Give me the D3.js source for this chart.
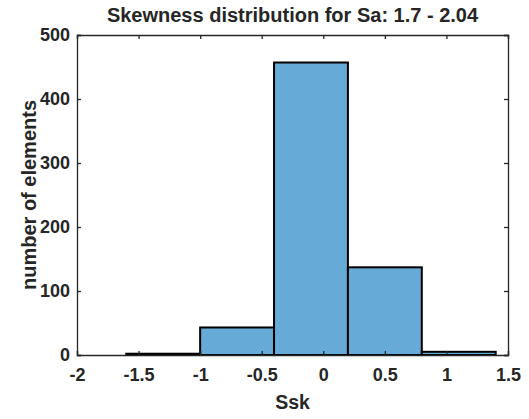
<!DOCTYPE html>
<html>
<head>
<meta charset="utf-8">
<script src="https://cdn.jsdelivr.net/npm/d3@7"></script>
<style>
  body { margin: 0; background: #fff; }
  text { font-family: "Liberation Sans", Arial, sans-serif; font-weight: bold; fill: #262626; }
</style>
</head>
<body>
<div id="root"></div>
<script>
// ---------------------------- DATA ----------------------------
// bin edges and counts
const binEdges = [-1.6, -1.0, -0.4, 0.2, 0.8, 1.4];
const binCounts = [2, 43, 457, 137, 5];
const xTicks = [-2, -1.5, -1, -0.5, 0, 0.5, 1, 1.5];
const yTicks = [0, 100, 200, 300, 400, 500];

const width = 529;
const height = 419;
const margin = { left: 77, right: 21, top: 35, bottom: 64 };

const svg = d3.select("#root").append("svg")
    .attr("width", width)
    .attr("height", height);

const x = d3.scaleLinear().domain([-2, 1.5]).range([margin.left, width - margin.right]);
const y = d3.scaleLinear().domain([0, 500]).range([height - margin.bottom, margin.top]);

const bins = binCounts.map((c, i) => ({ x0: binEdges[i], x1: binEdges[i + 1], count: c }));

// bars
svg.append("g")
    .selectAll("rect")
    .data(bins)
    .enter()
    .append("rect")
    .attr("x", d => x(d.x0))
    .attr("y", d => y(d.count))
    .attr("width", d => x(d.x1) - x(d.x0))
    .attr("height", d => y(0) - y(d.count))
    .attr("fill", "#66aad7")
    .attr("stroke", "#000")
    .attr("stroke-width", 2);

// axes (MATLAB style: ticks inward, box on)
const tickLen = 4;
const xAxis = d3.axisBottom(x).tickValues(xTicks).tickSize(-tickLen).tickPadding(13).tickFormat(d => String(d)); // plain hyphen like MATLAB
const yAxis = d3.axisLeft(y).tickValues(yTicks).tickSize(-tickLen).tickPadding(7);

const gx = svg.append("g").attr("transform", `translate(0,${y(0)})`).call(xAxis);
const gy = svg.append("g").attr("transform", `translate(${x(-2)},0)`).call(yAxis);
svg.append("g").attr("transform", `translate(0,${y(500)})`)
    .call(d3.axisTop(x).tickValues(xTicks).tickSize(-tickLen).tickFormat(""));
svg.append("g").attr("transform", `translate(${x(1.5)},0)`)
    .call(d3.axisRight(y).tickValues(yTicks).tickSize(-tickLen).tickFormat(""));

svg.selectAll(".domain, .tick line").attr("stroke", "#262626").attr("stroke-width", 1.3);
svg.selectAll(".tick text").style("font-size", "18px").style("font-family", "Liberation Sans, Arial, sans-serif").attr("fill", "#262626");

// labels
svg.append("text")
    .attr("x", (x(-2) + x(1.5)) / 2)
    .attr("y", 22)
    .attr("text-anchor", "middle")
    .style("font-size", "20px")
    .text("Skewness distribution for Sa: 1.7 - 2.04");

svg.append("text")
    .attr("x", (x(-2) + x(1.5)) / 2)
    .attr("y", 409)
    .attr("text-anchor", "middle")
    .style("font-size", "19.5px")
    .text("Ssk");

svg.append("text")
    .attr("transform", `translate(36,${(y(0) + y(500)) / 2}) rotate(-90)`)
    .attr("text-anchor", "middle")
    .style("font-size", "20px")
    .text("number of elements");
</script>
</body>
</html>
